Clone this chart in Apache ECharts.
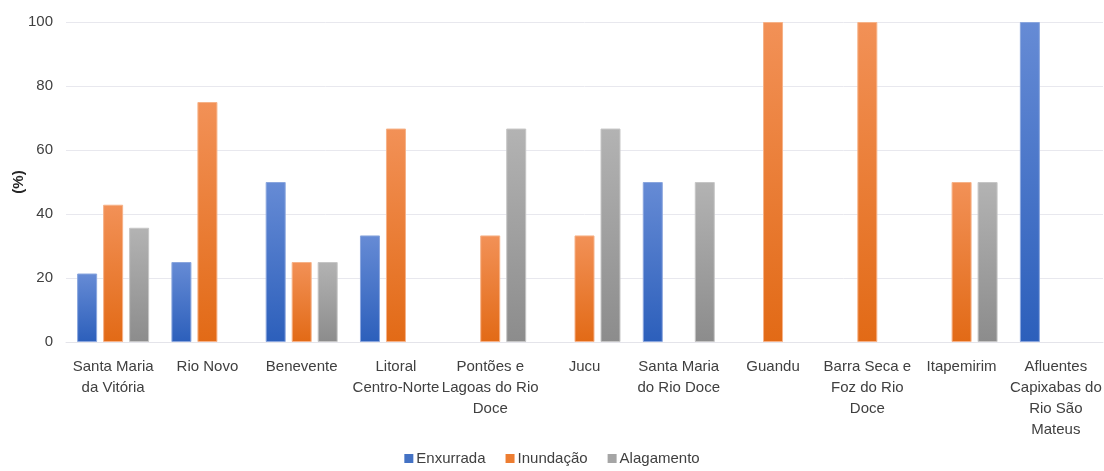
<!DOCTYPE html>
<html>
<head>
<meta charset="utf-8">
<script src="https://cdn.jsdelivr.net/npm/echarts@6/dist/echarts.min.js"></script>
<style>
  html, body { margin: 0; padding: 0; background: #fff; }
  #chart { width: 1104px; height: 471px; }
</style>
</head>
<body>
<div id="chart"></div>
<script>
// Bacias hidrográficas (rótulos com quebra de linha como no eixo)
const categories = [
  'Santa Maria\nda Vitória',
  'Rio Novo',
  'Benevente',
  'Litoral\nCentro-Norte',
  'Pontões e\nLagoas do Rio\nDoce',
  'Jucu',
  'Santa Maria\ndo Rio Doce',
  'Guandu',
  'Barra Seca e\nFoz do Rio\nDoce',
  'Itapemirim',
  'Afluentes\nCapixabas do\nRio São\nMateus'
];

// Percentual de ocorrências por tipo de evento
const enxurrada  = [21.4, 25, 50, 33.3, 0, 0, 50, 0, 0, 0, 100];
const inundacao  = [42.9, 75, 25, 66.7, 33.3, 33.3, 0, 100, 100, 50, 0];
const alagamento = [35.7, 0, 25, 0, 66.7, 66.7, 50, 0, 0, 50, 0];

const yTicks = [0, 20, 40, 60, 80, 100];

function grad(top, bottom) {
  return new echarts.graphic.LinearGradient(0, 0, 0, 1, [
    { offset: 0, color: top },
    { offset: 1, color: bottom }
  ]);
}

const font = 'Liberation Sans, Arial, sans-serif';

const chart = echarts.init(document.getElementById('chart'), null, { renderer: 'canvas' });

// zero-valued entries draw no bar (no empty outline on the baseline)
function barSeries(name, data, top, bottom, border) {
  return {
    name: name,
    type: 'bar',
    data: data.map(v => (v === 0 ? '-' : v)),
    barWidth: 20,
    barGap: '30%',
    itemStyle: {
      color: grad(top, bottom),
      borderColor: border,
      borderWidth: 1
    }
  };
}

chart.setOption({
  animation: false,
  color: ['#4472c4', '#ed7d31', '#a5a5a5'],
  grid: { left: 66, right: 1, top: 22, bottom: 129, containLabel: false, outerBoundsMode: 'none' },
  legend: {
    bottom: 0,
    left: 'center',
    itemWidth: 9,
    itemHeight: 9,
    itemGap: 20,
    icon: 'rect',
    itemStyle: { borderWidth: 0 },
    textStyle: { fontFamily: font, fontSize: 15, color: '#404040', padding: [0, 0, 0, -2] },
    data: [
      { name: 'Enxurrada', itemStyle: { color: '#4472c4' } },
      { name: 'Inundação', itemStyle: { color: '#ed7d31' } },
      { name: 'Alagamento', itemStyle: { color: '#a5a5a5' } }
    ]
  },
  xAxis: {
    type: 'category',
    data: categories,
    axisLine: { show: true, lineStyle: { color: '#e4e4ea', width: 1 } },
    axisTick: { show: false },
    axisLabel: {
      interval: 0,
      margin: 14,
      fontFamily: font,
      fontSize: 15,
      lineHeight: 21,
      color: '#404040'
    }
  },
  yAxis: {
    type: 'value',
    min: yTicks[0],
    max: yTicks[yTicks.length - 1],
    interval: 20,
    name: '(%)',
    nameLocation: 'middle',
    nameRotate: 90,
    nameGap: 40,
    nameMoveOverlap: false,
    nameTextStyle: { fontFamily: font, fontSize: 15, fontWeight: 'bold', color: '#262626' },
    axisLine: { show: false },
    axisTick: { show: false },
    axisLabel: { margin: 13, fontFamily: font, fontSize: 15, color: '#404040' },
    splitLine: { show: true, lineStyle: { color: '#e8e8ee', width: 1 } }
  },
  series: [
    barSeries('Enxurrada', enxurrada, '#668bd5', '#2c5fbb', '#8aa6de'),
    barSeries('Inundação', inundacao, '#f29157', '#e26a16', '#f6b288'),
    barSeries('Alagamento', alagamento, '#b3b3b3', '#8c8c8c', '#c6c6c6')
  ]
});
</script>
</body>
</html>
